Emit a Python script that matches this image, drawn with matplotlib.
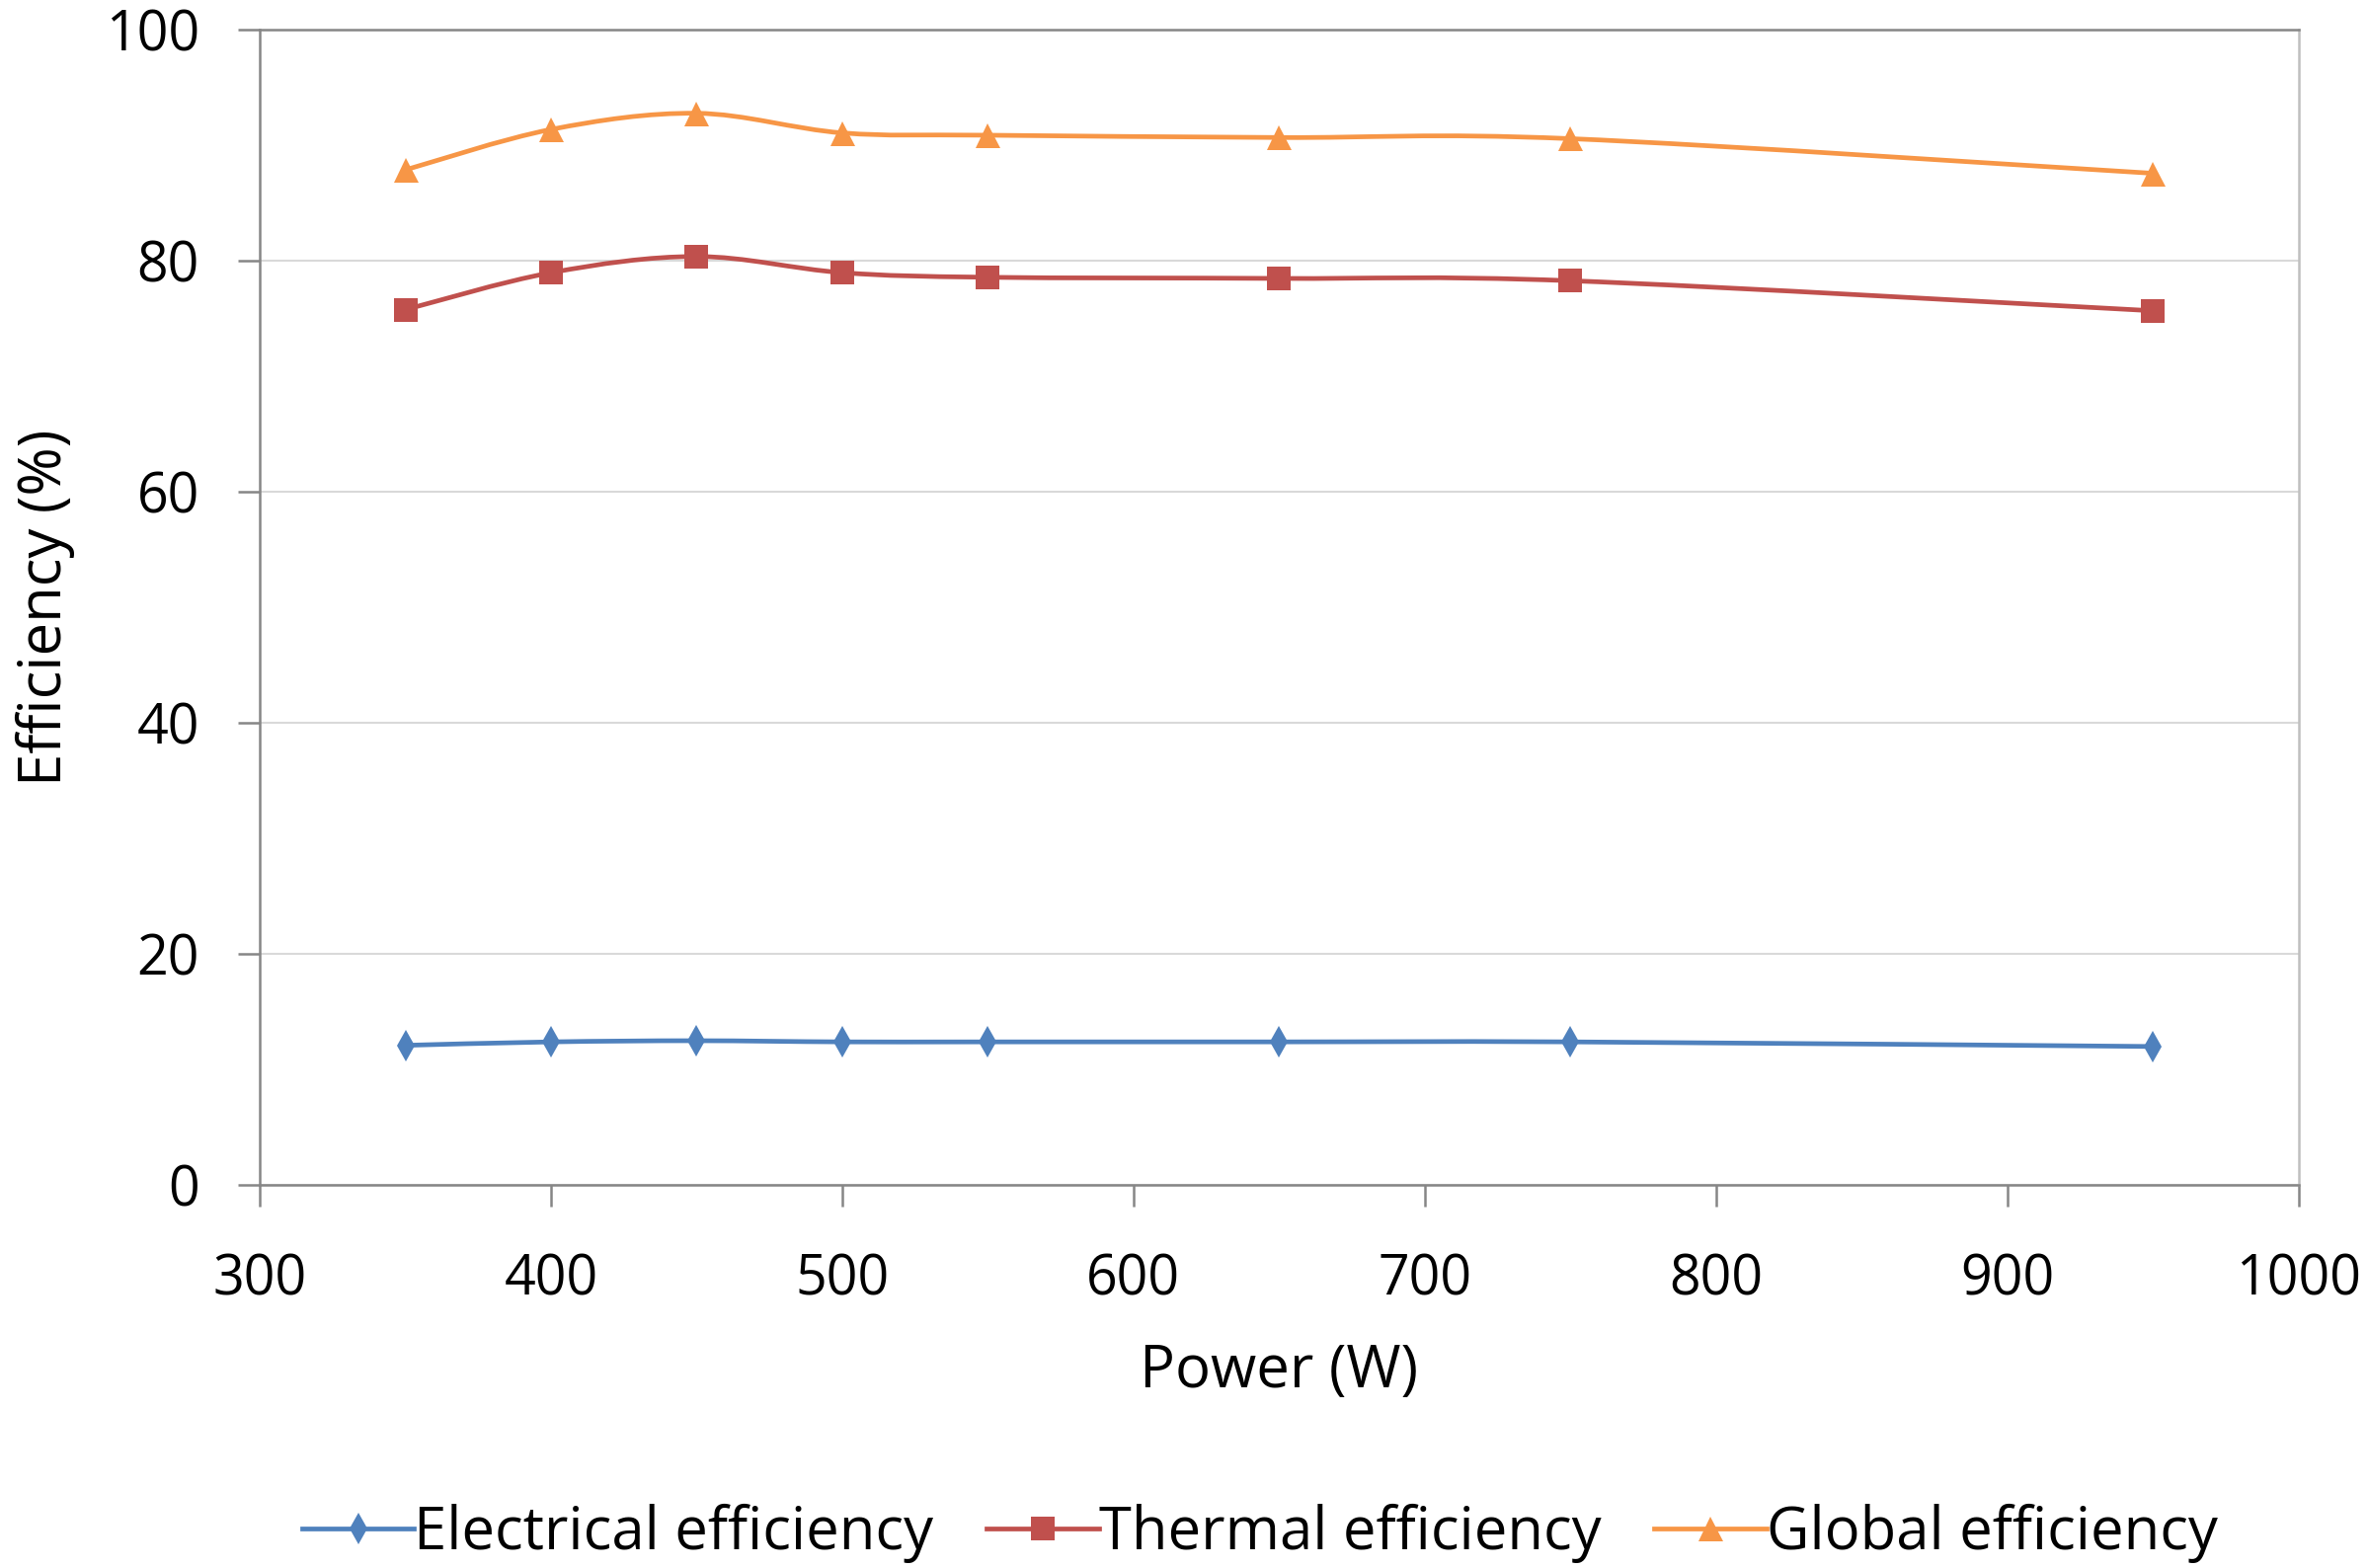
import numpy as np
import matplotlib
matplotlib.use("Agg")
import matplotlib.pyplot as plt
from matplotlib.path import Path
from matplotlib.patches import PathPatch
from matplotlib.lines import Line2D

plt.rcParams['font.family'] = ['Open Sans', 'DejaVu Sans']

power = [350, 400, 450, 500, 550, 650, 750, 950]
electrical = [12.1, 12.4, 12.5, 12.4, 12.4, 12.4, 12.4, 12.0]
thermal = [75.8, 79.0, 80.4, 79.0, 78.6, 78.5, 78.3, 75.7]
global_eff = [87.9, 91.4, 92.8, 91.1, 90.9, 90.7, 90.6, 87.6]

series_names = ["Electrical efficiency", "Thermal efficiency", "Global efficiency"]
colors = ["#4F81BD", "#C0504D", "#F79646"]
markers = ["d", "s", "^"]
msizes = [16, 17, 18]

x_ticks = [300, 400, 500, 600, 700, 800, 900, 1000]
y_ticks = [0, 20, 40, 60, 80, 100]

fig = plt.figure(figsize=(23.98, 15.88), dpi=100)
ax = fig.add_axes([0.1097, 0.2442, 0.8610, 0.7366])


def smooth_path(xs, ys, t=1 / 6):
    xs = np.asarray(xs, float)
    ys = np.asarray(ys, float)
    verts = [(xs[0], ys[0])]
    codes = [Path.MOVETO]
    n = len(xs)
    for i in range(n - 1):
        p0 = np.array([xs[max(i - 1, 0)], ys[max(i - 1, 0)]])
        p1 = np.array([xs[i], ys[i]])
        p2 = np.array([xs[i + 1], ys[i + 1]])
        p3 = np.array([xs[min(i + 2, n - 1)], ys[min(i + 2, n - 1)]])
        c1 = p1 + (p2 - p0) * t
        c2 = p2 - (p3 - p1) * t
        verts += [tuple(c1), tuple(c2), tuple(p2)]
        codes += [Path.CURVE4] * 3
    return Path(verts, codes)


handles = []
for ys, name, c, m, ms in zip([electrical, thermal, global_eff], series_names, colors, markers, msizes):
    patch = PathPatch(smooth_path(power, ys), facecolor="none", edgecolor=c, lw=3.4, zorder=3)
    ax.add_patch(patch)
    ax.plot(power, ys, linestyle="none", marker=m, color=c, markersize=ms, zorder=4,
            markeredgewidth=0)
    handles.append(Line2D([], [], color=c, lw=3.4, marker=m, markersize=ms, markeredgewidth=0))

ax.set_xlim(300, 1000)
ax.set_ylim(0, 100)
ax.set_xticks(x_ticks)
ax.set_yticks(y_ticks)
ax.tick_params(axis="both", labelsize=40, length=16, width=1.8, color="#868686")
ax.tick_params(axis="y", pad=28)
ax.tick_params(axis="x", pad=33)
ax.grid(axis="y", color="#D9D9D9", lw=1.5)
ax.set_axisbelow(True)
for s in ax.spines.values():
    s.set_color("#868686")
    s.set_linewidth(1.8)
ax.spines["right"].set_color("#BFBFBF")

ax.set_xlabel("Power (W)", fontsize=43, labelpad=24)
ax.set_ylabel("Efficiency (%)", fontsize=43, labelpad=22)

fig.legend(handles, series_names, loc="center", bbox_to_anchor=(0.532, 0.022), ncol=3,
           frameon=False, fontsize=43, handlelength=1.9, handletextpad=0.0, columnspacing=0.9)

fig.savefig("out.png", dpi=100)
